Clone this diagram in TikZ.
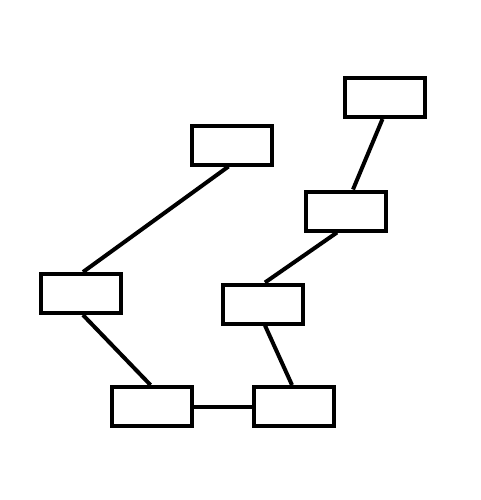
\documentclass[tikz,border=0pt]{standalone}
\usepackage{tikz}

\begin{document}
\begin{tikzpicture}[x=0.5pt,y=-0.5pt,
		box/.style={draw, line width=2pt, fill=white, minimum width=40pt, minimum height=19.5pt, inner sep=0pt},
		link/.style={line width=2pt}]
			
			\useasboundingbox (0,0) rectangle (481,500);
			
			% Boîtes (branche de gauche)
			\node[box] (b1) at (232.5,145) {};
			\node[box] (b4) at (81,293.5) {};
			\node[box] (b6) at (152.5,406.5) {};
			
			% Boîtes (branche de droite)
			\node[box] (b2) at (385.5,97.5) {};
			\node[box] (b3) at (346,211) {};
			\node[box] (b5) at (263,304) {};
			\node[box] (b7) at (294,406.5) {};
			
			% Liaisons entre les boîtes
			\draw[link] ([xshift=-2pt]b1.south) -- ([xshift=1pt]b4.north);
			\draw[link] ([xshift=1pt]b4.south) -- ([xshift=-1pt]b6.north);
			\draw[link] (b6.east) -- (b7.west);
			\draw[link] ([xshift=1pt]b5.south) -- ([xshift=-1pt]b7.north);
			\draw[link] ([xshift=-4.5pt]b3.south) -- ([xshift=1pt]b5.north);
			\draw[link] ([xshift=-1.5pt]b2.south) -- ([xshift=3.5pt]b3.north);
			
\end{tikzpicture}
\end{document}
